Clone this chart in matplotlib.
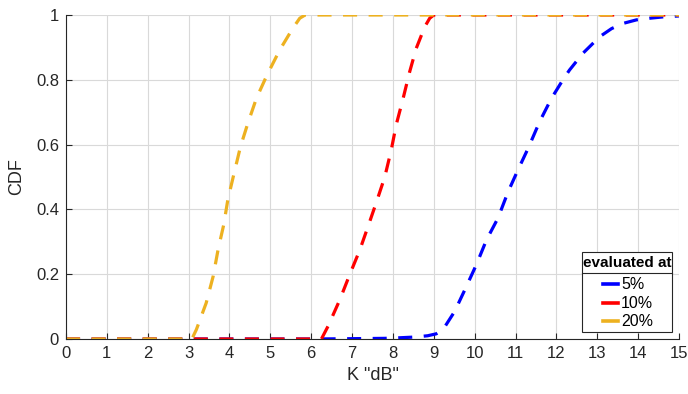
import matplotlib
matplotlib.use("Agg")
import matplotlib.pyplot as plt
from matplotlib.lines import Line2D
from matplotlib.patches import Rectangle

plt.rcParams['font.family'] = ['Liberation Sans', 'DejaVu Sans']

# 5% series
x5 = [0, 6, 7, 7.8, 8.2, 8.53, 8.85, 9.06, 9.23, 9.51, 9.76, 10.04, 10.29, 10.57, 10.82, 11.06, 11.31,
      11.59, 11.88, 12.16, 12.32, 12.65, 13.06, 13.35, 13.63, 13.96, 14.28, 14.6, 15]
y5 = [0, 0, 0.001, 0.002, 0.004, 0.006, 0.01, 0.016, 0.03, 0.085, 0.152, 0.229, 0.306, 0.373, 0.455, 0.522, 0.589,
      0.671, 0.743, 0.80, 0.83, 0.882, 0.933, 0.958, 0.974, 0.985, 0.99, 0.994, 0.997]
# 10% series
x10 = [0, 6.25, 6.41, 6.70, 6.94, 7.19, 7.39, 7.60, 7.80, 7.96, 8.08, 8.25, 8.41, 8.57, 8.78, 8.9, 9.0, 15]
y10 = [0, 0, 0.039, 0.121, 0.198, 0.275, 0.347, 0.424, 0.50, 0.584, 0.661, 0.743, 0.825, 0.897, 0.964, 0.99, 1.0, 1.0]
# 20% series
x20 = [0, 3.08, 3.19, 3.43, 3.60, 3.72, 3.86, 3.96, 4.11, 4.27, 4.45, 4.66, 4.92, 5.23, 5.55, 5.72, 5.85, 15]
y20 = [0, 0, 0.029, 0.111, 0.193, 0.275, 0.353, 0.43, 0.51, 0.594, 0.666, 0.743, 0.815, 0.892, 0.959, 0.99, 1.0, 1.0]

labels = ['5%', '10%', '20%']
legend_title = 'evaluated at'
colors = ['#0000ff', '#ff0000', '#edb120']

W, H = 688, 394
fig = plt.figure(figsize=(W / 100, H / 100), dpi=100)
ax = fig.add_axes([66 / W, 55 / H, (679 - 66) / W, (339 - 15) / H])

for xs, ys, c in zip([x5, x10, x20], [y5, y10, y20], colors):
    ax.plot(xs, ys, color=c, lw=2.3, dashes=(4.4, 3.6), dash_capstyle='butt')

ax.set_xlim(0, 15)
ax.set_ylim(0, 1)
ax.set_xticks(range(0, 16))
ax.set_yticks([0, 0.2, 0.4, 0.6, 0.8, 1])
ax.set_yticklabels(['0', '0.2', '0.4', '0.6', '0.8', '1'])
ax.grid(True, color='#d9d9d9', lw=0.8)
ax.set_axisbelow(True)
for s in ['top', 'right']:
    ax.spines[s].set_visible(False)
for s in ['bottom', 'left']:
    ax.spines[s].set_color('#262626')
    ax.spines[s].set_linewidth(0.8)
ax.tick_params(direction='in', length=4, width=0.8, colors='#262626', labelsize=12,
               labelcolor='#262626')
ax.tick_params(axis='x', pad=5)
ax.tick_params(axis='y', pad=5)
ax.set_xlabel('K "dB"', fontsize=13, color='#262626', labelpad=4)
ax.set_ylabel('CDF', fontsize=13, color='#262626', labelpad=8)

# legend box (MATLAB style, title separated by a rule)
def fx(px):
    return px / W

def fy(py):
    return 1 - py / H

L, R, T, S, B = 582, 672, 252, 273, 332
fig.add_artist(Rectangle((fx(L), fy(B)), fx(R) - fx(L), fy(T) - fy(B), transform=fig.transFigure,
                         facecolor='white', edgecolor='#262626', lw=0.8, zorder=5))
fig.add_artist(Line2D([fx(L), fx(R)], [fy(S), fy(S)], color='#262626', lw=0.8, zorder=6))
fig.text(fx((L + R) / 2), fy((T + S) / 2 + 0.5), legend_title, ha='center', va='center',
         fontsize=11, fontweight='bold', color='black', zorder=7)
rows = [284, 302.5, 321]
for lab, c, ry in zip(labels, colors, rows):
    fig.add_artist(Line2D([fx(603), fx(618)], [fy(ry), fy(ry)], color=c, lw=2.6, zorder=7))
    fig.text(fx(621), fy(ry + 0.5), lab, ha='left', va='center', fontsize=11.5,
             color='black', zorder=7)

fig.savefig('out.png', dpi=100)
